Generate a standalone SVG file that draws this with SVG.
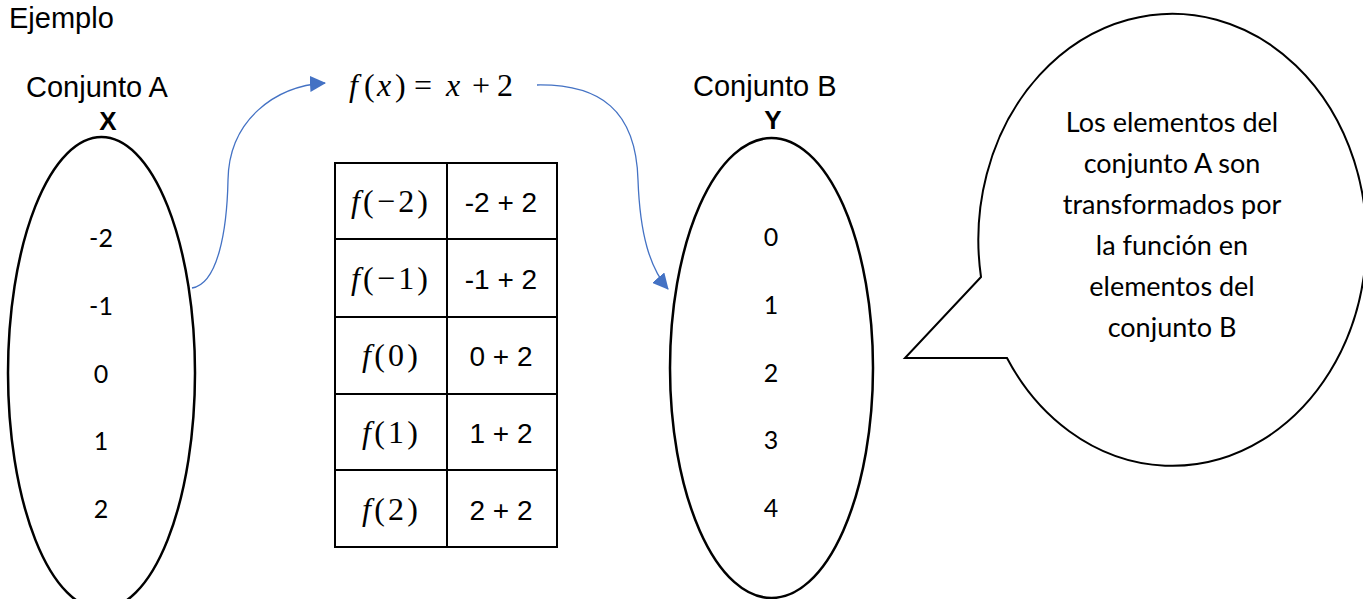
<svg xmlns="http://www.w3.org/2000/svg" width="1363" height="599" viewBox="0 0 1363 599">
<style>
.hd{font-family:"Liberation Sans",Arial,sans-serif;font-size:29px;fill:#000}
.bold{font-family:"Liberation Sans",Arial,sans-serif;font-size:26px;font-weight:bold;fill:#000}
.num{font-family:Lato,"Open Sans",sans-serif;font-size:25px;fill:#000;text-anchor:middle}
.bub{font-family:Lato,"Open Sans",sans-serif;font-size:27px;fill:#000;text-anchor:middle}
.math{font-family:"Liberation Serif","Times New Roman",serif;font-size:32px;fill:#000}
.mi{font-style:italic}
.cell{font-family:"Liberation Sans",Arial,sans-serif;font-size:28px;fill:#000;text-anchor:middle}
.set{fill:#fff;stroke:#000;stroke-width:2.5}
.grid{fill:none;stroke:#000;stroke-width:2}
.conn{fill:none;stroke:#4472C4;stroke-width:1.3}
</style>
<defs>
<marker id="ah2" viewBox="0 0 16 16" refX="15" refY="8" markerWidth="16" markerHeight="16" markerUnits="userSpaceOnUse" orient="auto">
<path d="M0,0 L16,8 L0,16 Z" fill="#4472C4"/>
</marker>
</defs>
<rect width="1363" height="599" fill="#fff"/>
<text class="hd" x="9" y="28" font-size="28">Ejemplo</text>

<g id="setA">
<text class="hd" x="26" y="97">Conjunto A</text>
<text class="bold" x="108" y="130" text-anchor="middle">X</text>
<ellipse class="set" cx="101.5" cy="373" rx="93.5" ry="236"/>
<text class="num" x="101" y="247">-2</text>
<text class="num" x="101" y="315">-1</text>
<text class="num" x="101" y="383">0</text>
<text class="num" x="101" y="450">1</text>
<text class="num" x="101" y="518">2</text>
</g>

<g id="formula">
<text class="math" y="96"><tspan class="mi" x="349">f</tspan><tspan x="364">(</tspan><tspan class="mi" x="377">x</tspan><tspan x="395">)</tspan><tspan x="414">=</tspan><tspan class="mi" x="446">x</tspan><tspan x="472">+</tspan><tspan x="497">2</tspan></text>
</g>

<g id="table">
<rect class="grid" x="335" y="163" width="222" height="384"/>
<line class="grid" x1="447" y1="163" x2="447" y2="547"/>
<line class="grid" x1="335" y1="239" x2="557" y2="239"/>
<line class="grid" x1="335" y1="317" x2="557" y2="317"/>
<line class="grid" x1="335" y1="394" x2="557" y2="394"/>
<line class="grid" x1="335" y1="470" x2="557" y2="470"/>
<text class="math" x="351" y="212" textLength="77" lengthAdjust="spacing"><tspan class="mi">f</tspan>(−2)</text>
<text class="math" x="351" y="289" textLength="77" lengthAdjust="spacing"><tspan class="mi">f</tspan>(−1)</text>
<text class="math" x="362" y="366" textLength="56" lengthAdjust="spacing"><tspan class="mi">f</tspan>(0)</text>
<text class="math" x="362" y="443" textLength="56" lengthAdjust="spacing"><tspan class="mi">f</tspan>(1)</text>
<text class="math" x="362" y="520" textLength="56" lengthAdjust="spacing"><tspan class="mi">f</tspan>(2)</text>
<text class="cell" x="501" y="212">-2 + 2</text>
<text class="cell" x="501" y="289">-1 + 2</text>
<text class="cell" x="501" y="366">0 + 2</text>
<text class="cell" x="501" y="443">1 + 2</text>
<text class="cell" x="501" y="520">2 + 2</text>
</g>

<g id="setB">
<text class="hd" x="693" y="96">Conjunto B</text>
<text class="bold" x="773" y="129" text-anchor="middle">Y</text>
<ellipse class="set" cx="771.5" cy="368" rx="101.5" ry="230"/>
<text class="num" x="771" y="246">0</text>
<text class="num" x="771" y="314">1</text>
<text class="num" x="771" y="382">2</text>
<text class="num" x="771" y="449">3</text>
<text class="num" x="771" y="517">4</text>
</g>

<g id="bubble">
<path d="M981,277 L905,358 L1007,358 A194,226 0 1 0 981,277 Z" fill="#fff" stroke="#000" stroke-width="2"/>
<text class="bub" x="1172" y="132">Los elementos del</text>
<text class="bub" x="1172" y="173">conjunto A son</text>
<text class="bub" x="1172" y="214">transformados por</text>
<text class="bub" x="1172" y="255">la función en</text>
<text class="bub" x="1172" y="296">elementos del</text>
<text class="bub" x="1172" y="337">conjunto B</text>
</g>

<g id="connectors">
<path class="conn" d="M192,288 C218,284 227,230 228,180 C229,120 275,86 325,83" marker-end="url(#ah2)"/>
<path class="conn" d="M537,85 C600,84 636,110 638,180 C640,235 650,268 668,289" marker-end="url(#ah2)"/>
</g>
</svg>
